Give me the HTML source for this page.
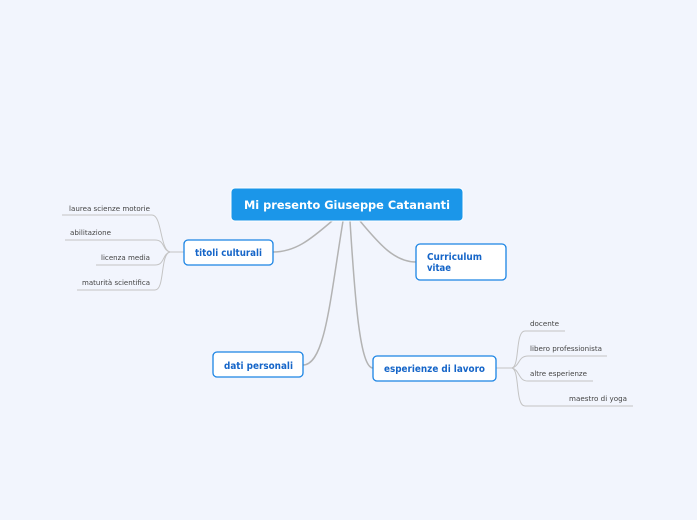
<!DOCTYPE html>
<html><head><meta charset="utf-8"><style>
html,body{margin:0;padding:0;background:#f2f5fd;}
svg{display:block;font-family:"DejaVu Sans","Liberation Sans",sans-serif;}
</style></head><body>
<svg width="697" height="520" viewBox="0 0 697 520">
<rect width="697" height="520" fill="#f2f5fd"/>
<g fill="none" stroke="#b3b3b3" stroke-width="1.5">
<path d="M332,221 C310,240 295,252 273,252"/>
<path d="M360,221 C380,245 395,262 416,262"/>
<path d="M343,221 C330,300 325,365 303,365"/>
<path d="M350,221 C355,300 360,368 373,368"/>
</g>
<g fill="none" stroke="#c4c4c4" stroke-width="1">
<path d="M184,252 L170,252"/>
<path d="M170,252 C160,250 162,215 152,215 L62,215"/>
<path d="M170,252 C162,250 165,240 155,240 L65,240"/>
<path d="M170,252 C162,254 165,265 155,265 L96,265"/>
<path d="M170,252 C160,254 165,290 155,290 L77,290"/>
<path d="M496,368 L512,368"/>
<path d="M512,368 C520,366 515,331 525,331 L565,331"/>
<path d="M512,368 C520,366 518,356 528,356 L607,356"/>
<path d="M512,368 C520,370 518,381 528,381 L593,381"/>
<path d="M512,368 C520,370 515,406 525,406 L633,406"/>
</g>
<rect x="231" y="188" width="232" height="33" rx="4" fill="#1b96e9" stroke="#fff" stroke-width="1"/>
<text x="244" y="209" fill="#fff" font-size="11.5" font-weight="bold" textLength="206" lengthAdjust="spacingAndGlyphs">Mi presento Giuseppe Catananti</text>
<g fill="#fff" stroke="#1b84e4" stroke-width="1.3">
<rect x="184" y="240" width="89" height="25" rx="4"/>
<rect x="416" y="244" width="90" height="36" rx="4"/>
<rect x="213" y="352" width="90" height="25" rx="4"/>
<rect x="373" y="356" width="123" height="25" rx="4"/>
</g>
<g fill="#1565c8" font-size="9.5" font-weight="bold">
<text x="195" y="256" textLength="67" lengthAdjust="spacingAndGlyphs">titoli culturali</text>
<text x="427" y="260" textLength="55" lengthAdjust="spacingAndGlyphs">Curriculum</text>
<text x="427" y="271" textLength="24" lengthAdjust="spacingAndGlyphs">vitae</text>
<text x="224" y="369" textLength="69" lengthAdjust="spacingAndGlyphs">dati personali</text>
<text x="384" y="372" textLength="101" lengthAdjust="spacingAndGlyphs">esperienze di lavoro</text>
</g>
<g fill="#444" font-size="7">
<text x="69" y="211" textLength="81" lengthAdjust="spacingAndGlyphs">laurea scienze motorie</text>
<text x="70" y="235" textLength="41" lengthAdjust="spacingAndGlyphs">abilitazione</text>
<text x="101" y="260" textLength="49" lengthAdjust="spacingAndGlyphs">licenza media</text>
<text x="82" y="285" textLength="68" lengthAdjust="spacingAndGlyphs">maturità scientifica</text>
<text x="530" y="326" textLength="29" lengthAdjust="spacingAndGlyphs">docente</text>
<text x="530" y="351" textLength="72" lengthAdjust="spacingAndGlyphs">libero professionista</text>
<text x="530" y="376" textLength="57" lengthAdjust="spacingAndGlyphs">altre esperienze</text>
<text x="569" y="401" textLength="58" lengthAdjust="spacingAndGlyphs">maestro di yoga</text>
</g>
</svg>
</body></html>
